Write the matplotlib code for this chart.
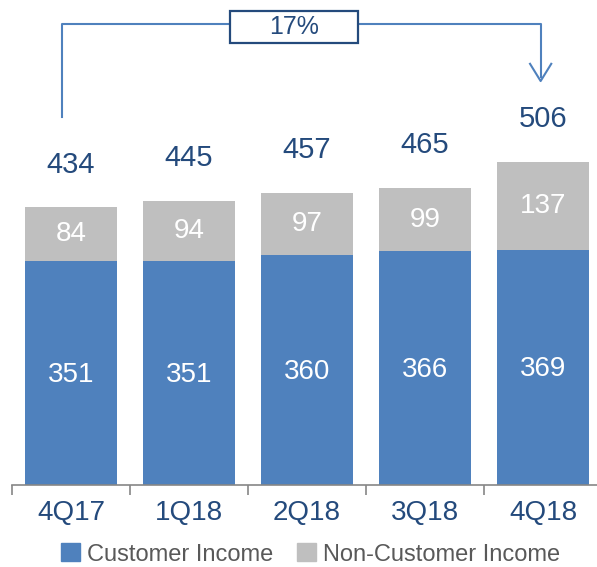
import matplotlib
matplotlib.use("Agg")
import matplotlib.pyplot as plt
from matplotlib.patches import Patch, Rectangle

quarters = ["4Q17", "1Q18", "2Q18", "3Q18", "4Q18"]
customer_income = [351, 351, 360, 366, 369]
non_customer_income = [84, 94, 97, 99, 137]
totals = [434, 445, 457, 465, 506]
growth_label = "17%"

BLUE = "#4F81BD"
GRAY = "#BFBFBF"
DARK = "#244A7C"
plt.rcParams["font.family"] = ["Liberation Sans", "DejaVu Sans"]

fig = plt.figure(figsize=(5.97, 5.67), dpi=100)
ax = fig.add_axes([12 / 597, 82 / 567, 590 / 597, 485 / 567])
x = list(range(len(quarters)))

ax.bar(x, customer_income, width=0.78, color=BLUE)
ax.bar(x, non_customer_income, width=0.78, bottom=customer_income, color=GRAY)

for i in x:
    ax.text(i, customer_income[i] / 2 - 3, str(customer_income[i]), ha="center", va="center",
            color="white", fontsize=20)
    ax.text(i, customer_income[i] + non_customer_income[i] / 2, str(non_customer_income[i]),
            ha="center", va="center", color="white", fontsize=20)
    ax.text(i, totals[i] + 68, str(totals[i]), ha="center", va="center", color=DARK, fontsize=21)

ax.set_xlim(-0.5, 4.5)
ax.set_ylim(0, 760)
ax.set_xticks([i + 0.5 for i in range(-1, len(quarters))])
ax.set_xticklabels([])
ax.set_xticks(x, minor=True)
ax.set_xticklabels(quarters, minor=True, color=DARK, fontsize=20)
ax.tick_params(axis="x", which="major", length=7, color="#868686", width=1.2)
ax.tick_params(axis="x", which="minor", length=0, pad=11)
ax.set_yticks([])
for s in ["top", "right", "left"]:
    ax.spines[s].set_visible(False)
ax.spines["bottom"].set_color("#868686")
ax.spines["bottom"].set_linewidth(1.2)

# growth bracket 4Q17 -> 4Q18
y_line = 723
x_left, x_right = 0 - 0.08, 4 - 0.02
ax.plot([x_left, x_left, x_right, x_right], [577, y_line, y_line, 640],
        color=BLUE, lw=1.5, clip_on=False)
ax.plot([x_right - 0.09, x_right, x_right + 0.09], [660, 633, 660],
        color=BLUE, lw=1.5, clip_on=False)
ax.add_patch(Rectangle((1.35, 693), 1.08, 50, facecolor="white", edgecolor=DARK,
                       lw=1.6, zorder=3, clip_on=False))
ax.text(1.89, 718, growth_label, ha="center", va="center", color=DARK, fontsize=18, zorder=4)

handles = [Patch(color=BLUE, label="Customer Income"),
           Patch(color=GRAY, label="Non-Customer Income")]
fig.legend(handles=handles, loc="center", bbox_to_anchor=(0.52, 0.022), ncol=2,
           frameon=False, fontsize=17, labelcolor="#595959", handlelength=0.8,
           handleheight=0.8, handletextpad=0.3, columnspacing=1.0)

plt.savefig("out.png")
